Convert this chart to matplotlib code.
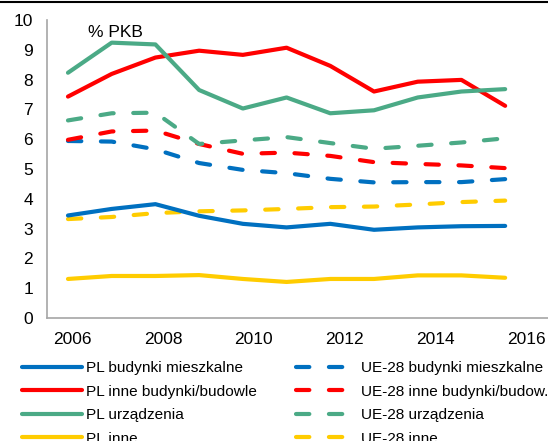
import matplotlib
matplotlib.use("Agg")
import matplotlib.pyplot as plt
from matplotlib.lines import Line2D

plt.rcParams['font.family'] = ['Liberation Sans', 'DejaVu Sans']

years = [2006, 2007, 2008, 2009, 2010, 2011, 2012, 2013, 2014, 2015, 2016]

pl_mieszkalne = [3.44, 3.66, 3.82, 3.43, 3.16, 3.04, 3.16, 2.96, 3.04, 3.08, 3.09]
pl_inne_bud = [7.43, 8.19, 8.74, 8.97, 8.83, 9.07, 8.46, 7.60, 7.93, 7.99, 7.12]
pl_urzadzenia = [8.23, 9.24, 9.18, 7.65, 7.03, 7.40, 6.87, 6.97, 7.40, 7.60, 7.68]
pl_inne = [1.31, 1.41, 1.41, 1.44, 1.31, 1.21, 1.31, 1.31, 1.43, 1.43, 1.35]

ue_mieszkalne = [5.94, 5.92, 5.66, 5.20, 4.97, 4.86, 4.67, 4.55, 4.56, 4.56, 4.66]
ue_inne_bud = [5.98, 6.26, 6.29, 5.84, 5.51, 5.55, 5.44, 5.23, 5.17, 5.12, 5.03]
ue_urzadzenia = [6.63, 6.87, 6.89, 5.84, 5.96, 6.07, 5.87, 5.68, 5.78, 5.89, 6.03]
ue_inne = [3.32, 3.39, 3.52, 3.58, 3.61, 3.66, 3.72, 3.74, 3.81, 3.89, 3.94]

pl_labels = ["PL budynki mieszkalne", "PL inne budynki/budowle", "PL urządzenia", "PL inne"]
ue_labels = ["UE-28 budynki mieszkalne", "UE-28 inne budynki/budow.", "UE-28 urządzenia", "UE-28 inne"]
tick_years = [2006, 2008, 2010, 2012, 2014, 2016]
y_ticks = [0, 1, 2, 3, 4, 5, 6, 7, 8, 9, 10]

colors = ["#0070C0", "#FF0000", "#4BAA86", "#FFCC00"]

W, H = 548, 441
fig = plt.figure(figsize=(W / 100, H / 100), dpi=100)
ax = fig.add_axes([47 / W, 1 - 318 / H, 1 - 47 / W, (318 - 20) / H])

lw = 3
dash = (0, (3.2, 4.7))
pl_series = [pl_mieszkalne, pl_inne_bud, pl_urzadzenia, pl_inne]
ue_series = [ue_mieszkalne, ue_inne_bud, ue_urzadzenia, ue_inne]

pl_handles = []
ue_handles = []
for vals, c, lab in zip(ue_series, colors, ue_labels):
    h, = ax.plot(years, vals, color=c, lw=lw, linestyle=dash,
                 dash_capstyle='round', solid_joinstyle='round', label=lab)
    ue_handles.append(h)
for vals, c, lab in zip(pl_series, colors, pl_labels):
    h, = ax.plot(years, vals, color=c, lw=lw, solid_capstyle='round',
                 solid_joinstyle='round', label=lab)
    pl_handles.append(h)

ax.set_xlim(2005.52, 2016.98)
ax.set_ylim(0, 10)
ax.set_yticks(y_ticks)
ax.set_yticklabels([str(v) for v in y_ticks])
# category labels in the source sit slightly off the data points
tick_pos = [2006.09 + (y - 2006) * 1.0405 for y in tick_years]
ax.set_xticks(tick_pos)
ax.set_xticklabels([str(y) for y in tick_years])
ax.tick_params(axis='both', length=0, labelsize=12.5, colors='black')
ax.tick_params(axis='x', pad=10)
ax.tick_params(axis='y', pad=10)

for s in ['top', 'right']:
    ax.spines[s].set_visible(False)
for s in ['left', 'bottom']:
    ax.spines[s].set_color('#A6A6A6')
    ax.spines[s].set_linewidth(1.2)

ax.text(2006.46, 9.43, "% PKB", fontsize=12.5, va='baseline', ha='left')

fig.add_artist(Line2D([0, 1], [1 - 1.5 / H, 1 - 1.5 / H], color='black', lw=1.5,
                      transform=fig.transFigure))

fs = 11.1
leg1 = fig.legend(handles=pl_handles, loc='upper left',
                  bbox_to_anchor=(22 / W, 1 - 361 / H), frameon=False,
                  fontsize=fs, handlelength=3.9, handletextpad=0.26,
                  labelspacing=0.62, borderpad=0, borderaxespad=0)
leg2 = fig.legend(handles=ue_handles, loc='upper left',
                  bbox_to_anchor=(296 / W, 1 - 361 / H), frameon=False,
                  fontsize=fs, handlelength=3.4, handletextpad=0.79,
                  labelspacing=0.62, borderpad=0, borderaxespad=0)

fig.savefig("out.png", dpi=100)
